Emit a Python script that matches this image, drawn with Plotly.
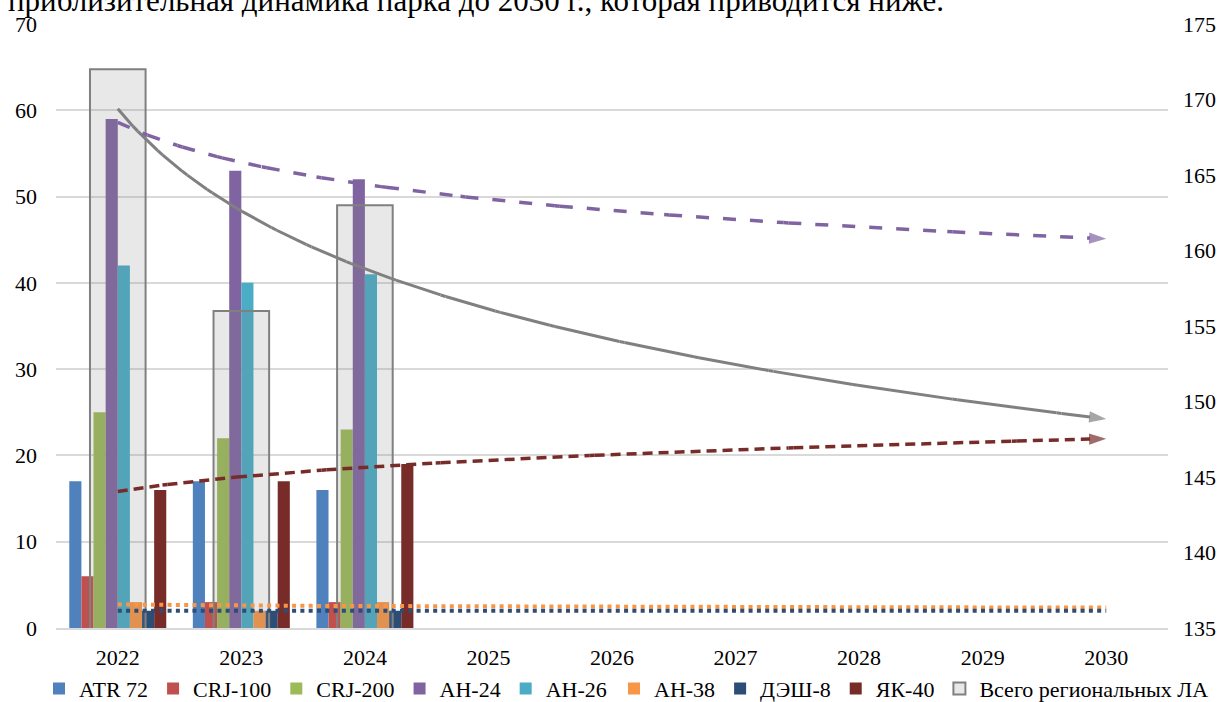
import numpy as np
import plotly.graph_objects as go

years = ["2022", "2023", "2024", "2025", "2026", "2027", "2028", "2029", "2030"]
data_years = ["2022", "2023", "2024"]

atr72 = [17, 17, 16]
crj100 = [6, 3, 3]
crj200 = [25, 22, 23]
an24 = [59, 53, 52]
an26 = [42, 40, 41]
an38 = [3, 2, 3]
dash8 = [2, 2, 2]
yak40 = [16, 17, 19]
total = [172, 156, 163]

series = [
    ("ATR 72", atr72, "#4F81BD", "legend"),
    ("CRJ-100", crj100, "#C0504D", "legend"),
    ("CRJ-200", crj200, "#9BBB59", "legend"),
    ("АН-24", an24, "#8064A2", "legend"),
    ("АН-26", an26, "#4BACC6", "legend"),
    ("АН-38", an38, "#F79646", "legend2"),
    ("ДЭШ-8", dash8, "#2C4D75", "legend2"),
    ("ЯК-40", yak40, "#772C2A", "legend2"),
]

FONT = "Liberation Serif, Times New Roman, serif"
xpos = list(range(len(data_years)))

fig = go.Figure()
for name, vals, col, lg in series:
    fig.add_trace(go.Bar(x=xpos, y=vals, name=name, marker=dict(color=col, line=dict(width=0)),
                         yaxis="y", xaxis="x", legend=lg))

fig.add_trace(go.Bar(x=xpos, y=total, name="Всего региональных ЛА", width=0.45,
                     marker=dict(color="rgba(128,128,128,0.18)", line=dict(color="#808080", width=2)),
                     yaxis="y2", legend="legend2"))


def power_trend(vals):
    # Excel-style power trendline (y = a * x^b), forecast forward to the last category
    idx = np.arange(1, len(vals) + 1)
    b, ln_a = np.polyfit(np.log(idx), np.log(np.array(vals, dtype=float)), 1)
    t = np.linspace(1, len(years), 200)
    return t - 1, np.exp(ln_a) * t ** b


def add_trend(vals, color, dash, width, axis, arrow):
    tx, ty = power_trend(vals)
    n = len(tx)
    if arrow:
        sizes = [0] * (n - 1) + [18]
        fig.add_trace(go.Scatter(x=tx, y=ty, mode="lines+markers", yaxis=axis, showlegend=False,
                                 hoverinfo="skip",
                                 line=dict(color=color, dash=dash, width=width),
                                 marker=dict(symbol="arrow", angleref="previous", size=sizes,
                                             color=color, line=dict(width=0))))
    else:
        fig.add_trace(go.Scatter(x=tx, y=ty, mode="lines", yaxis=axis, showlegend=False,
                                 hoverinfo="skip",
                                 line=dict(color=color, dash=dash, width=width)))


add_trend(total, "#808080", "solid", 3, "y2", True)
add_trend(an24, "#8064A2", "13px,14px", 3.5, "y3", True)
add_trend(yak40, "#772C2A", "10px,6px", 3.5, "y3", True)
add_trend(an38, "#F79646", "4px,4.3px", 4, "y3", False)
add_trend(dash8, "#2C4D75", "4px,4.3px", 4, "y3", False)

legend_common = dict(orientation="h", xref="container", yref="container", y=0.019,
                     yanchor="middle", font=dict(family=FONT, size=22),
                     itemwidth=30, traceorder="normal", bgcolor="rgba(0,0,0,0)")

fig.update_layout(
    width=1227, height=702,
    margin=dict(l=56, r=59, t=24, b=74, autoexpand=False),
    paper_bgcolor="white", plot_bgcolor="white",
    barmode="group", bargap=0.215, bargroupgap=0,
    font=dict(family=FONT, size=22, color="#000000"),
    xaxis=dict(range=[-0.5, 8.5], tickmode="array", tickvals=list(range(len(years))), ticktext=years,
               showgrid=False, zeroline=False, showline=True, linecolor="#D9D9D9", linewidth=2,
               ticks="", ticklabelstandoff=9, tickfont=dict(family=FONT, size=22)),
    yaxis=dict(range=[0, 70], dtick=10, showgrid=True, gridcolor="#D9D9D9", gridwidth=1.5,
               zeroline=False, ticks="", ticklabelstandoff=18, tickfont=dict(family=FONT, size=22)),
    yaxis2=dict(range=[135, 175], dtick=5, overlaying="y", side="right", showgrid=False,
                zeroline=False, ticks="", ticklabelstandoff=14, tickfont=dict(family=FONT, size=22)),
    yaxis3=dict(range=[0, 70], overlaying="y", visible=False),
    showlegend=True,
    legend=dict(x=39 / 1227, xanchor="left", **legend_common),
    legend2=dict(x=1214 / 1227, xanchor="right", **legend_common),
)

fig.add_annotation(text="приблизительная динамика парка до 2030 г., которая приводится ниже.",
                   xref="paper", yref="paper", x=-56 / 1112 + 6 / 1112, y=1 + 24 / 604,
                   xanchor="left", yanchor="middle", showarrow=False,
                   font=dict(family=FONT, size=31, color="#000000"))

fig.write_html("out.html")
